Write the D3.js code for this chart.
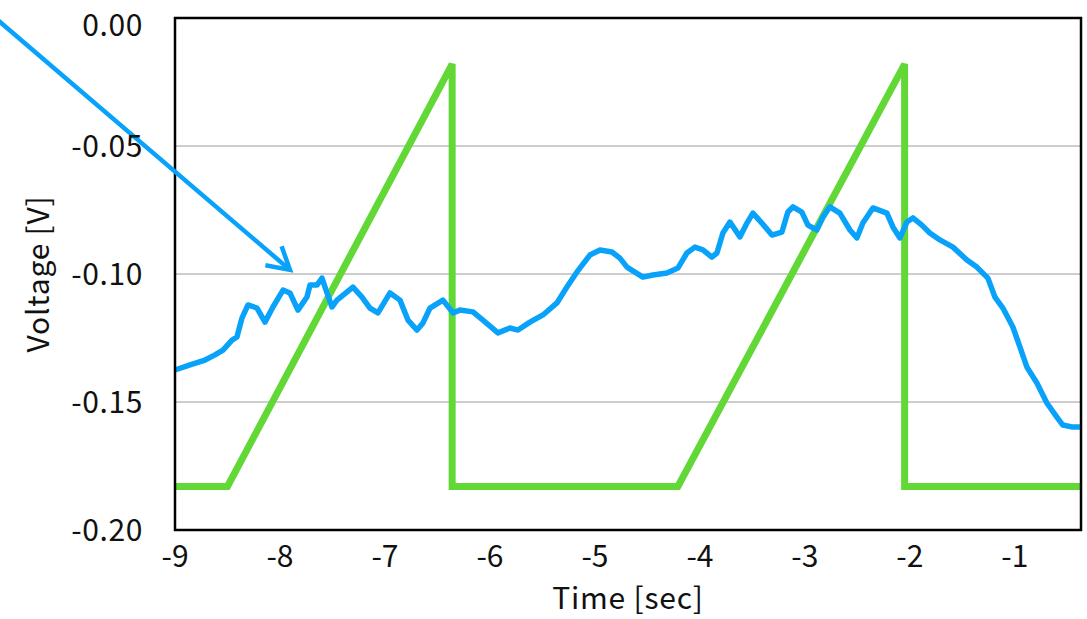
<!DOCTYPE html>
<html>
<head>
<meta charset="utf-8">
<script src="https://cdn.jsdelivr.net/npm/d3@7"></script>
<style>
  html, body { margin: 0; padding: 0; background: #fff; }
  svg { display: block; }
</style>
</head>
<body>
<svg id="chart" width="1087" height="619"></svg>
<script>
// ---- data ----
const blueTime = [
  -9.000, -8.857, -8.714, -8.619, -8.543, -8.457, -8.410, -8.362, -8.305, -8.219,
  -8.143, -8.067, -7.971, -7.905, -7.829, -7.743, -7.714, -7.648, -7.600, -7.552,
  -7.505, -7.457, -7.305, -7.219, -7.143, -7.067, -6.952, -6.857, -6.781, -6.695,
  -6.638, -6.571, -6.448, -6.352, -6.286, -6.162, -6.067, -5.924, -5.810, -5.733,
  -5.619, -5.495, -5.362, -5.267, -5.171, -5.048, -4.952, -4.838, -4.762, -4.695,
  -4.543, -4.448, -4.314, -4.210, -4.124, -4.048, -3.971, -3.886, -3.838, -3.781,
  -3.714, -3.619, -3.552, -3.495, -3.410, -3.314, -3.219, -3.162, -3.114, -3.029,
  -2.971, -2.886, -2.829, -2.762, -2.667, -2.571, -2.505, -2.448, -2.352, -2.219,
  -2.162, -2.095, -2.029, -1.971, -1.886, -1.810, -1.714, -1.590, -1.457, -1.362,
  -1.257, -1.190, -1.114, -1.019, -0.952, -0.886, -0.790, -0.695, -0.600, -0.543,
  -0.448, -0.381
];
const blueVolt = [
  -0.1375, -0.1355, -0.1336, -0.1316, -0.1297, -0.1258, -0.1246, -0.1172, -0.1121, -0.1133,
  -0.1188, -0.1129, -0.1063, -0.1074, -0.1141, -0.1090, -0.1043, -0.1043, -0.1016, -0.1074,
  -0.1129, -0.1102, -0.1051, -0.1090, -0.1133, -0.1152, -0.1074, -0.1102, -0.1180, -0.1219,
  -0.1191, -0.1133, -0.1102, -0.1152, -0.1141, -0.1148, -0.1180, -0.1230, -0.1211, -0.1219,
  -0.1188, -0.1160, -0.1113, -0.1051, -0.0992, -0.0926, -0.0906, -0.0914, -0.0938, -0.0973,
  -0.1012, -0.1004, -0.0996, -0.0977, -0.0918, -0.0895, -0.0906, -0.0934, -0.0918, -0.0840,
  -0.0797, -0.0855, -0.0801, -0.0762, -0.0801, -0.0848, -0.0836, -0.0758, -0.0738, -0.0758,
  -0.0809, -0.0828, -0.0777, -0.0738, -0.0762, -0.0828, -0.0859, -0.0801, -0.0742, -0.0762,
  -0.0816, -0.0859, -0.0797, -0.0781, -0.0809, -0.0840, -0.0867, -0.0895, -0.0945, -0.0973,
  -0.1016, -0.1090, -0.1133, -0.1207, -0.1285, -0.1363, -0.1426, -0.1504, -0.1559, -0.1590,
  -0.1598, -0.1598
];
const greenTime = [-9.0, -8.5, -6.36, -6.36, -5.0, -4.21, -2.05, -2.05, -1.0, -0.37];
const greenVolt = [-0.183, -0.183, -0.018, -0.183, -0.183, -0.183, -0.018, -0.183, -0.183, -0.183];
const xTicks = [-9, -8, -7, -6, -5, -4, -3, -2, -1];
const xTickLabels = ["-9", "-8", "-7", "-6", "-5", "-4", "-3", "-2", "-1"];
const yTicks = [0, -0.05, -0.10, -0.15, -0.20];
const yTickLabels = ["0.00", "-0.05", "-0.10", "-0.15", "-0.20"];
const yGrid = [-0.05, -0.10, -0.15];
const arrowFrom = [-10.8, 0.0031];
const arrowTo = [-7.905, -0.0984];
const xTitle = "Time [sec]";
const yTitle = "Voltage [V]";

// ---- layout ----
const svg = d3.select("#chart");
const pL = 175, pR = 1081, pT = 18, pB = 530;
const x = d3.scaleLinear().domain([-9, -0.37]).range([pL, pR]);
const y = d3.scaleLinear().domain([-0.2, 0]).range([pB, pT]);
const font = "'Noto Sans CJK JP', 'Noto Sans', sans-serif";
const fs = 30;

svg.append("rect").attr("width", 1087).attr("height", 619).attr("fill", "#fff");

// gridlines
svg.append("g").selectAll("line").data(yGrid).join("line")
  .attr("x1", pL).attr("x2", pR)
  .attr("y1", d => y(d)).attr("y2", d => y(d))
  .attr("stroke", "#bdbdbd").attr("stroke-width", 1.5);

// green sawtooth
const line = d3.line().x(d => x(d[0])).y(d => y(d[1]));
const green = greenTime.map((t, i) => [t, greenVolt[i]]);
svg.append("path").datum(green)
  .attr("d", line)
  .attr("fill", "none").attr("stroke", "#62d836")
  .attr("stroke-width", 7).attr("stroke-linejoin", "miter");

// blue signal
const blue = blueTime.map((t, i) => [t, blueVolt[i]]);
svg.append("path").datum(blue)
  .attr("d", line)
  .attr("fill", "none").attr("stroke", "#08a2fa")
  .attr("stroke-width", 5.5).attr("stroke-linejoin", "round");

// frame
svg.append("rect")
  .attr("x", pL).attr("y", pT)
  .attr("width", pR - pL).attr("height", pB - pT)
  .attr("fill", "none").attr("stroke", "#000").attr("stroke-width", 2.5);

// arrow annotation
const ax0 = x(arrowFrom[0]), ay0 = y(arrowFrom[1]);
const ax1 = x(arrowTo[0]), ay1 = y(arrowTo[1]);
svg.append("line")
  .attr("x1", ax0).attr("y1", ay0).attr("x2", ax1).attr("y2", ay1)
  .attr("stroke", "#08a2fa").attr("stroke-width", 4.5);
const ang = Math.atan2(ay0 - ay1, ax0 - ax1);
const headLen = 25, spread = Math.PI / 6;
const head = [ang - spread, ang + spread].map(a => [ax1 + headLen * Math.cos(a), ay1 + headLen * Math.sin(a)]);
svg.append("path")
  .attr("d", `M${head[0][0]},${head[0][1]}L${ax1},${ay1}L${head[1][0]},${head[1][1]}`)
  .attr("fill", "none").attr("stroke", "#08a2fa").attr("stroke-width", 4.5)
  .attr("stroke-linejoin", "miter");

// y tick labels (baseline kept far enough from the top edge for the font's ascent)
const minBaseline = Math.ceil(fs * 1.17);
svg.append("g").selectAll("text").data(yTicks).join("text")
  .attr("x", 143).attr("y", d => Math.max(y(d) + fs * 0.37, minBaseline))
  .attr("text-anchor", "end")
  .attr("font-family", font).attr("font-size", fs).attr("letter-spacing", 0.6).attr("fill", "#111")
  .text((d, i) => yTickLabels[i]);

// x tick labels
svg.append("g").selectAll("text").data(xTicks).join("text")
  .attr("x", d => x(d)).attr("y", 567)
  .attr("text-anchor", "middle")
  .attr("font-family", font).attr("font-size", fs).attr("fill", "#111")
  .text((d, i) => xTickLabels[i]);

// axis titles
svg.append("text")
  .attr("x", (pL + pR) / 2).attr("y", 609)
  .attr("text-anchor", "middle")
  .attr("font-family", font).attr("font-size", fs).attr("letter-spacing", 0.8).attr("fill", "#111")
  .text(xTitle);
svg.append("text")
  .attr("transform", `translate(49,${(pT + pB) / 2}) rotate(-90)`)
  .attr("text-anchor", "middle")
  .attr("font-family", font).attr("font-size", fs).attr("letter-spacing", 0.8).attr("fill", "#111")
  .text(yTitle);
</script>
</body>
</html>
